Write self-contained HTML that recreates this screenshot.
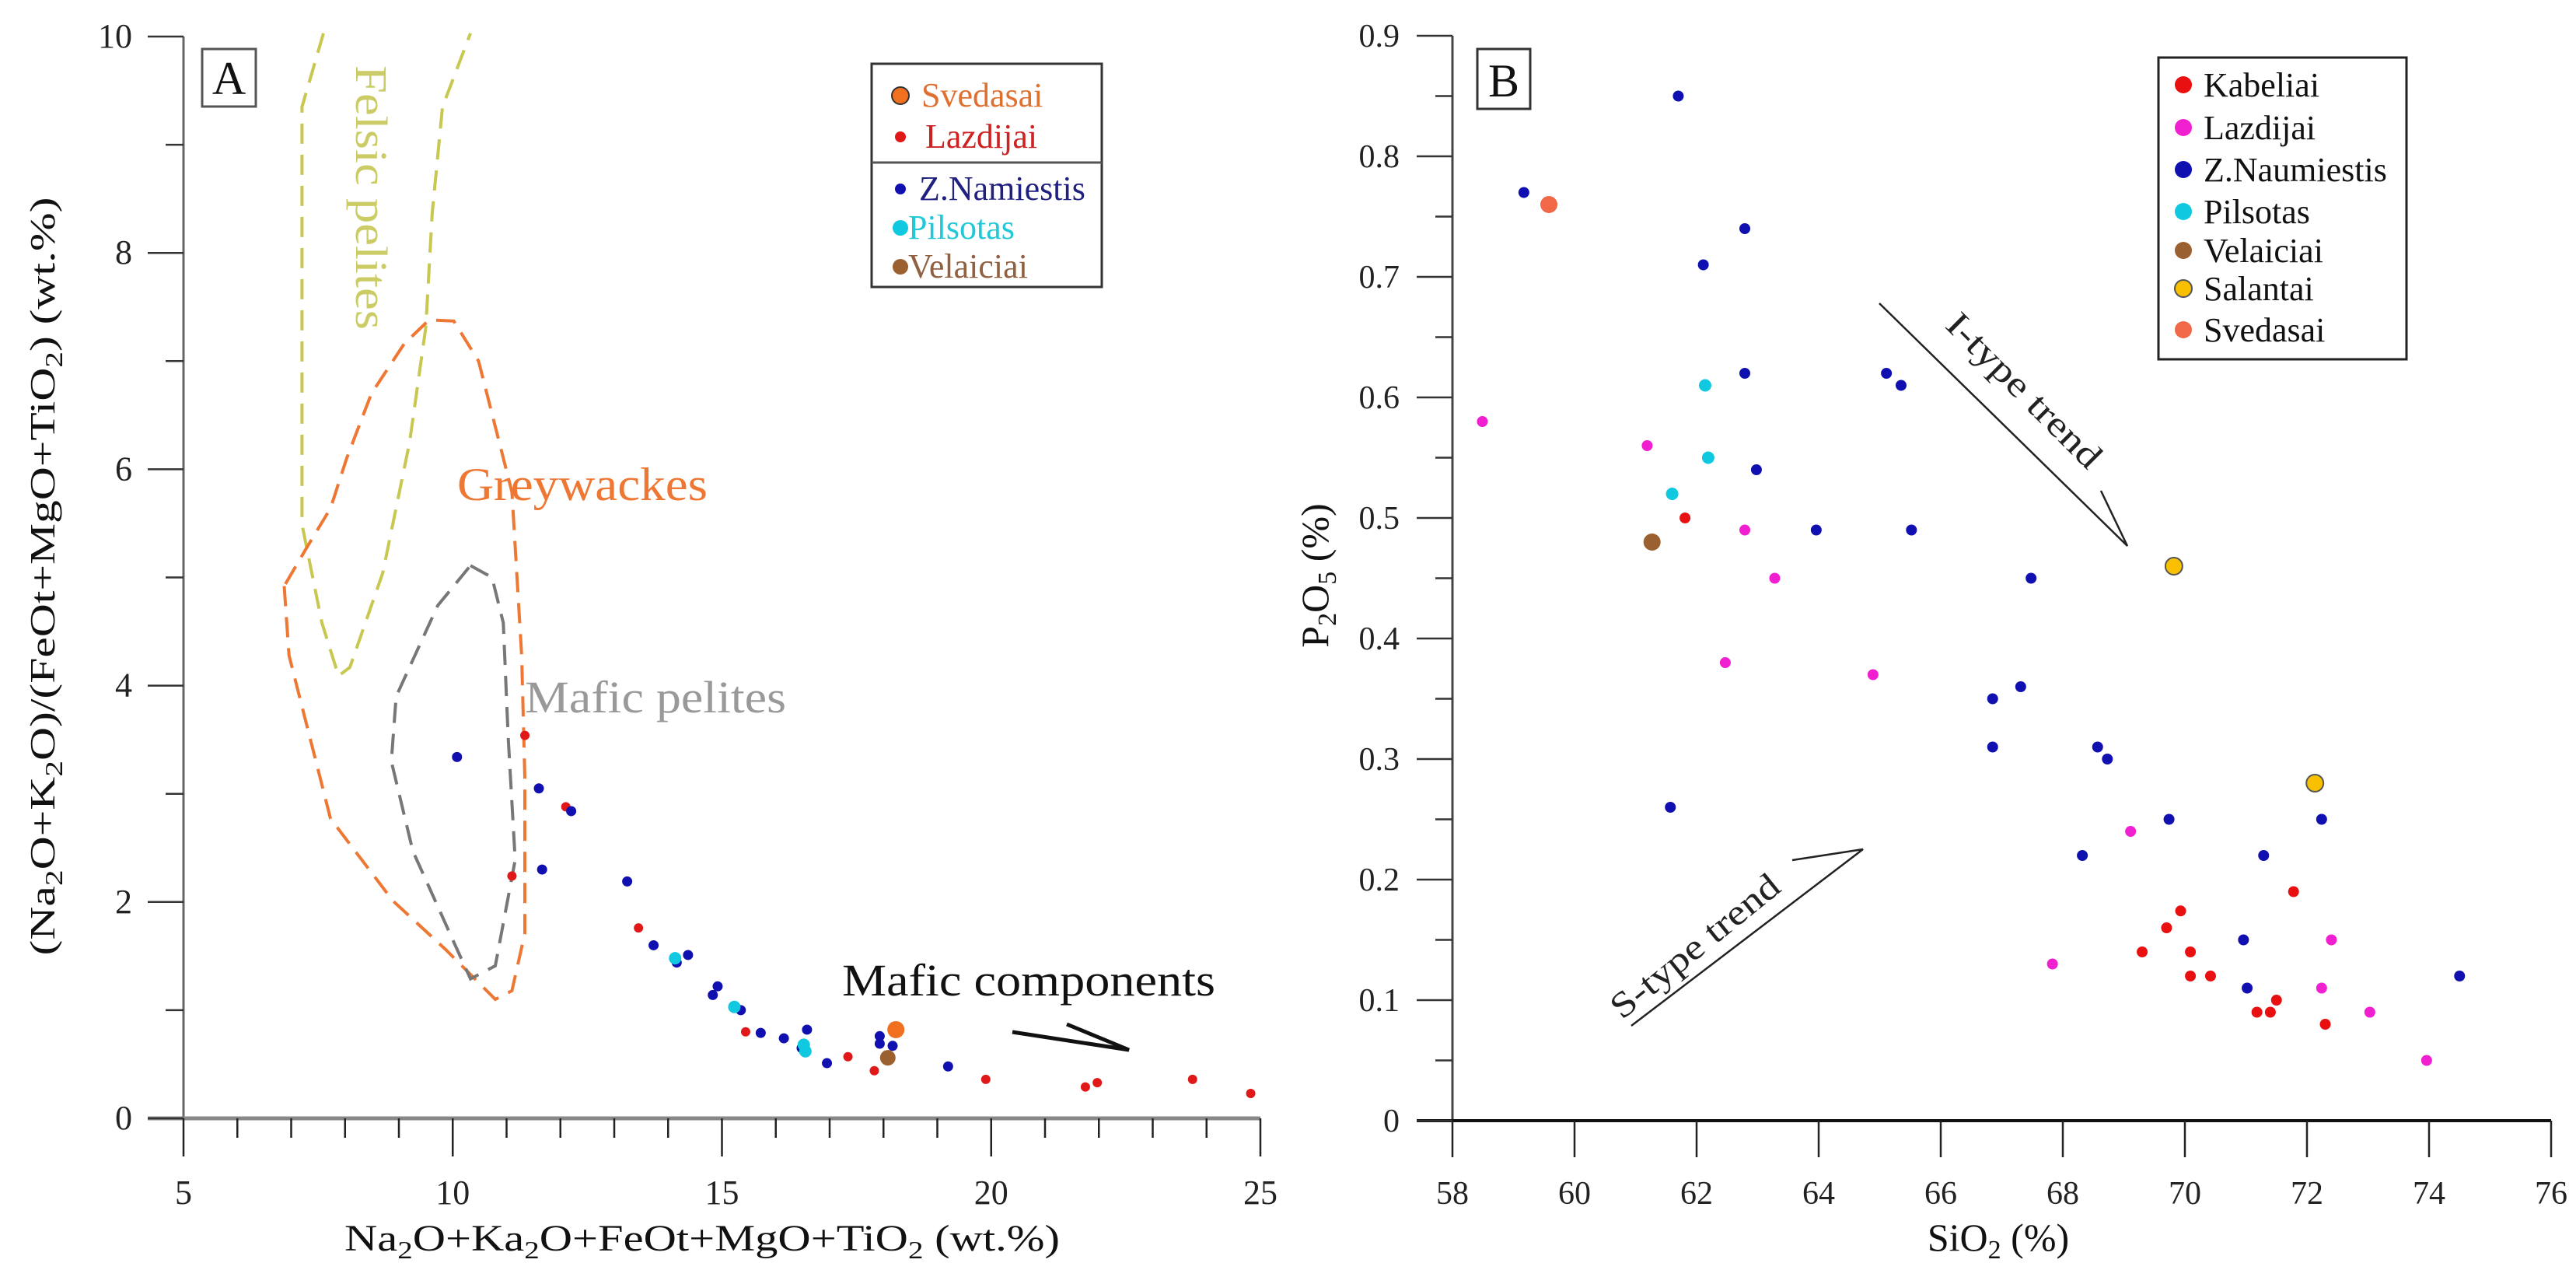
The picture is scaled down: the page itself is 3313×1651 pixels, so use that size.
<!DOCTYPE html>
<html><head><meta charset="utf-8"><style>
html,body{margin:0;padding:0;background:#fff;}
svg{display:block;font-family:"Liberation Serif",serif;}
</style></head><body>
<svg id="chart" width="3313" height="1651" viewBox="0 0 3313 1651" xmlns="http://www.w3.org/2000/svg">
<rect width="3313" height="1651" fill="#fff"/>
<g id="panelA"></g>
<g id="panelB"></g>
</svg>
<script>
// ---------- Panel A data ----------
const aXTicks = [5,10,15,20,25];
const aYTicks = [0,2,4,6,8,10];
const aLazdijaiX = [11.34,11.1,12.1,13.45,15.44,17.34,17.83,19.9,21.75,21.97,23.74,24.82];
const aLazdijaiY = [3.54,2.24,2.88,1.76,0.80,0.57,0.44,0.36,0.29,0.33,0.36,0.23];
const aNamiestisX = [10.08,11.6,12.2,11.66,13.24,13.73,14.37,14.16,14.92,14.83,15.35,15.72,16.15,16.58,16.48,16.95,17.93,17.93,18.17,19.2];
const aNamiestisY = [3.34,3.05,2.84,2.30,2.19,1.60,1.51,1.44,1.22,1.14,1.00,0.79,0.74,0.82,0.65,0.51,0.76,0.69,0.67,0.48];
const aPilsotasX = [14.13,15.23,16.52,16.55];
const aPilsotasY = [1.48,1.03,0.68,0.62];
const aVelaiciaiX = [18.08];
const aVelaiciaiY = [0.56];
const aSvedasaiX = [18.23];
const aSvedasaiY = [0.82];
const felsicX = [7.6,7.2,7.2,7.57,7.88,8.09,8.7,9.2,9.5,9.62,9.81,10.33];
const felsicY = [10.03,9.35,5.49,4.58,4.09,4.17,5.04,6.25,7.31,8.37,9.35,10.03];
const greyX = [6.87,6.96,7.73,8.89,9.87,10.79,11.1,11.34,11.34,11.28,11.1,10.48,10.02,9.56,9.1,8.49,8.03,7.73,7.27];
const greyY = [4.92,4.28,2.77,2.01,1.56,1.10,1.18,1.71,3.15,4.28,5.79,7.0,7.37,7.38,7.16,6.7,6.1,5.64,5.26];
const maficX = [10.33,10.73,10.94,11.03,11.16,10.79,10.33,10.02,9.26,8.86,8.95,9.72];
const maficY = [5.11,5.0,4.58,3.52,2.39,1.41,1.29,1.63,2.47,3.3,3.9,4.74];
// ---------- Panel B data ----------
const bXTicks = [58,60,62,64,66,68,70,72,74,76];
const bYTicks = [0,0.1,0.2,0.3,0.4,0.5,0.6,0.7,0.8,0.9];
const bKabeliaiX = [61.81,69.3,69.7,69.93,70.09,70.09,70.42,71.18,71.4,71.5,71.78,72.3];
const bKabeliaiY = [0.50,0.14,0.16,0.174,0.14,0.12,0.12,0.09,0.09,0.10,0.19,0.08];
const bLazdijaiX = [58.49,61.19,62.79,63.28,62.47,64.89,67.83,69.11,72.24,72.4,73.03,73.96];
const bLazdijaiY = [0.58,0.56,0.49,0.45,0.38,0.37,0.13,0.24,0.11,0.15,0.09,0.05];
const bNaumiestisX = [61.7,59.17,62.79,62.11,62.79,65.11,65.35,62.98,63.96,65.52,67.48,67.31,66.85,66.85,68.57,68.73,61.57,69.74,72.24,68.32,71.29,70.96,71.02,74.5];
const bNaumiestisY = [0.85,0.77,0.74,0.71,0.62,0.62,0.61,0.54,0.49,0.49,0.45,0.36,0.35,0.31,0.31,0.30,0.26,0.25,0.25,0.22,0.22,0.15,0.11,0.12];
const bPilsotasX = [62.14,62.19,61.6];
const bPilsotasY = [0.61,0.55,0.52];
const bVelaiciaiX = [61.27];
const bVelaiciaiY = [0.48];
const bSalantaiX = [69.82,72.13];
const bSalantaiY = [0.46,0.28];
const bSvedasaiX = [59.58];
const bSvedasaiY = [0.76];

const NS = "http://www.w3.org/2000/svg";
function mk(parent, tag, attrs, text){
  const e = document.createElementNS(NS, tag);
  for (const k in attrs) e.setAttribute(k, attrs[k]);
  if (text !== undefined) e.textContent = text;
  parent.appendChild(e);
  return e;
}
// axis functions
const ax = v => 236 + (v - 5) * (1621 - 236) / 20;
const ay = v => 1438 - v * (1438 - 47) / 10;
const bx = v => 1868 + (v - 58) * (3281 - 1868) / 18;
const by = v => 1441 - v * (1441 - 46) / 0.9;

const A = document.getElementById('panelA');
const B = document.getElementById('panelB');

// ----- Panel A axes -----
let l;
l = mk(A,'line',{x1:236,y1:47,x2:236,y2:1438,stroke:'#666','stroke-width':3});
 
l = mk(A,'line',{x1:190,y1:1438,x2:1621,y2:1438,stroke:'#888','stroke-width':5});
 
for (let v = 0; v <= 10; v++) {
  const major = v % 2 === 0;
  const t = mk(A,'line',{x1:major?190:213,y1:ay(v),x2:236,y2:ay(v),stroke:'#333','stroke-width':2.5});
   
}
aYTicks.forEach(v => {
  const t = mk(A,'text',{x:170,y:ay(v)+14,'text-anchor':'end','font-size':44,fill:'#222'}, String(v));
   
});
for (let v = 5; v <= 25; v++) {
  const major = v % 5 === 0;
  const t = mk(A,'line',{x1:ax(v),y1:1438,x2:ax(v),y2:major?1487:1463,stroke:'#222','stroke-width':2.5});
   
}
aXTicks.forEach(v => {
  const t = mk(A,'text',{x:ax(v),y:1548,'text-anchor':'middle','font-size':44,fill:'#222'}, String(v));
   
});
let tt = mk(A,'text',{x:903,y:1608,'text-anchor':'middle','font-size':48,fill:'#111',textLength:920,lengthAdjust:'spacingAndGlyphs'});
 
tt.innerHTML = 'Na<tspan font-size="32" dy="10">2</tspan><tspan dy="-10">O+Ka</tspan><tspan font-size="32" dy="10">2</tspan><tspan dy="-10">O+FeOt+MgO+TiO</tspan><tspan font-size="32" dy="10">2</tspan><tspan dy="-10"> (wt.%)</tspan>';
tt = mk(A,'text',{x:0,y:0,'text-anchor':'middle','font-size':46,fill:'#111',textLength:975,lengthAdjust:'spacingAndGlyphs',transform:'translate(70,741) rotate(-90)'});
 
tt.innerHTML = '(Na<tspan font-size="32" dy="10">2</tspan><tspan dy="-10">O+K</tspan><tspan font-size="32" dy="10">2</tspan><tspan dy="-10">O)/(FeOt+MgO+TiO</tspan><tspan font-size="32" dy="10">2</tspan><tspan dy="-10">) (wt.%)</tspan>';

// Panel A label box
let r = mk(A,'rect',{x:260,y:63,width:69,height:74,fill:'#fff',stroke:'#555','stroke-width':3});
 
r = mk(A,'text',{x:294.5,y:121,'text-anchor':'middle','font-size':60,fill:'#111'},'A');
 

// Fields
function pathFrom(xs, ys, fx, fy, close){
  let d = xs.map((x,i)=> (i?'L':'M') + fx(x).toFixed(1) + ',' + fy(ys[i]).toFixed(1)).join(' ');
  return close ? d + ' Z' : d;
}
let p = mk(A,'path',{d:pathFrom(felsicX,felsicY,ax,ay,false),fill:'none',stroke:'#c8c850','stroke-width':4,'stroke-dasharray':'26,14'});
 
p = mk(A,'path',{d:pathFrom(greyX,greyY,ax,ay,true),fill:'none',stroke:'#ee7733','stroke-width':4,'stroke-dasharray':'26,14'});
 
p = mk(A,'path',{d:pathFrom(maficX,maficY,ax,ay,true),fill:'none',stroke:'#777','stroke-width':4,'stroke-dasharray':'26,14'});
 

let lab = mk(A,'text',{x:0,y:0,'font-size':58,fill:'#cccc66',textLength:340,lengthAdjust:'spacingAndGlyphs',transform:'translate(458,84) rotate(90)'},'Felsic pelites');
 
lab = mk(A,'text',{x:588,y:643,'font-size':60,fill:'#ee7733',textLength:322,lengthAdjust:'spacingAndGlyphs'},'Greywackes');
 
lab = mk(A,'text',{x:675,y:916,'font-size':58,fill:'#999',textLength:336,lengthAdjust:'spacingAndGlyphs'},'Mafic pelites');
 
lab = mk(A,'text',{x:1083,y:1280,'font-size':58,fill:'#111',textLength:480,lengthAdjust:'spacingAndGlyphs'},'Mafic components');
 
p = mk(A,'path',{d:'M1302,1327 L1452,1350 L1372,1317',fill:'none',stroke:'#111','stroke-width':5});
 

// Points A
function dots(g, xs, ys, fx, fy, r, fill, stroke, name){
  xs.forEach((x,i)=>{
    const c = mk(g,'circle',{cx:fx(x),cy:fy(ys[i]),r:r,fill:fill});
    if (stroke) { c.setAttribute('stroke', stroke); c.setAttribute('stroke-width', 2); }
    
    
  });
}
dots(A, aLazdijaiX, aLazdijaiY, ax, ay, 6, '#e01818', null, 'a-lazdijai-point');
dots(A, aNamiestisX, aNamiestisY, ax, ay, 6.5, '#1010b0', null, 'a-namiestis-point');
dots(A, aPilsotasX, aPilsotasY, ax, ay, 8, '#10c8e0', null, 'a-pilsotas-point');
dots(A, aVelaiciaiX, aVelaiciaiY, ax, ay, 10, '#9a6030', null, 'a-velaiciai-point');
dots(A, aSvedasaiX, aSvedasaiY, ax, ay, 11, '#f07020', null, 'a-svedasai-point');

// Legend A
r = mk(A,'rect',{x:1121,y:82,width:296,height:287,fill:'#fff',stroke:'#333','stroke-width':3});
 
l = mk(A,'line',{x1:1121,y1:209,x2:1417,y2:209,stroke:'#555','stroke-width':3});
 
const legA = [
  ['Svedasai',123,'#f07020','#e07030',11,'#333',1185],
  ['Lazdijai',176,'#e01818','#cc2222',7,null,1190],
  ['Z.Namiestis',243,'#1010b0','#202080',7,null,1182],
  ['Pilsotas',293,'#10c8e0','#20c8d8',10,null,1168],
  ['Velaiciai',343,'#9a6030','#906040',10,null,1168]
];
legA.forEach(e=>{
  const c = mk(A,'circle',{cx:1158,cy:e[1],r:e[4],fill:e[2]});
  if (e[5]) { c.setAttribute('stroke',e[5]); c.setAttribute('stroke-width',2); }
  
  
  const t = mk(A,'text',{x:e[6],y:e[1]+14,'font-size':44,fill:e[3]}, e[0]);
  
  
});

// ----- Panel B axes -----
l = mk(B,'line',{x1:1868,y1:46,x2:1868,y2:1441,stroke:'#444','stroke-width':3});
 
l = mk(B,'line',{x1:1822,y1:1441,x2:3281,y2:1441,stroke:'#111','stroke-width':4});
 
for (let k = 0; k <= 18; k++) {
  const v = k * 0.05;
  const major = k % 2 === 0;
  const t = mk(B,'line',{x1:major?1822:1846,y1:by(v),x2:1868,y2:by(v),stroke:'#333','stroke-width':2.5});
   
}
bYTicks.forEach(v => {
  const t = mk(B,'text',{x:1800,y:by(v)+14,'text-anchor':'end','font-size':42,fill:'#222'}, v === 0 ? '0' : v.toFixed(1));
   
});
bXTicks.forEach(v => {
  const t = mk(B,'line',{x1:bx(v),y1:1441,x2:bx(v),y2:1488,stroke:'#222','stroke-width':2.5});
   
  const s = mk(B,'text',{x:bx(v),y:1548,'text-anchor':'middle','font-size':42,fill:'#222'}, String(v));
   
});
tt = mk(B,'text',{x:2570,y:1608,'text-anchor':'middle','font-size':50,fill:'#111'});
 
tt.innerHTML = 'SiO<tspan font-size="34" dy="10">2</tspan><tspan dy="-10"> (%)</tspan>';
tt = mk(B,'text',{x:0,y:0,'text-anchor':'middle','font-size':50,fill:'#111',transform:'translate(1708,740) rotate(-90)'});
 
tt.innerHTML = 'P<tspan font-size="34" dy="10">2</tspan><tspan dy="-10">O</tspan><tspan font-size="34" dy="10">5</tspan><tspan dy="-10"> (%)</tspan>';

r = mk(B,'rect',{x:1900,y:63,width:68,height:77,fill:'#fff',stroke:'#333','stroke-width':3});
 
r = mk(B,'text',{x:1934,y:124,'text-anchor':'middle','font-size':60,fill:'#111'},'B');
 

// Trend arrows
p = mk(B,'path',{d:'M2417,390 L2736,702 L2702,631',fill:'none',stroke:'#222','stroke-width':2.5});
 
lab = mk(B,'text',{x:0,y:0,'font-size':46,fill:'#222',textLength:262,lengthAdjust:'spacingAndGlyphs',transform:'translate(2500,420) rotate(45)'},'I-type trend');
 
p = mk(B,'path',{d:'M2098,1319 L2396,1092 L2305,1106',fill:'none',stroke:'#222','stroke-width':2.5});
 
lab = mk(B,'text',{x:0,y:0,'font-size':46,fill:'#222',textLength:266,lengthAdjust:'spacingAndGlyphs',transform:'translate(2086,1312) rotate(-39)'},'S-type trend');
 

// Points B
dots(B, bKabeliaiX, bKabeliaiY, bx, by, 7, '#e81010', null, 'b-kabeliai-point');
dots(B, bLazdijaiX, bLazdijaiY, bx, by, 7, '#f020d0', null, 'b-lazdijai-point');
dots(B, bNaumiestisX, bNaumiestisY, bx, by, 7, '#1010b0', null, 'b-naumiestis-point');
dots(B, bPilsotasX, bPilsotasY, bx, by, 8, '#10c8e0', null, 'b-pilsotas-point');
dots(B, bVelaiciaiX, bVelaiciaiY, bx, by, 11, '#9a6030', null, 'b-velaiciai-point');
dots(B, bSalantaiX, bSalantaiY, bx, by, 11, '#f8c000', '#555', 'b-salantai-point');
dots(B, bSvedasaiX, bSvedasaiY, bx, by, 11, '#f06848', null, 'b-svedasai-point');

// Legend B
r = mk(B,'rect',{x:2776,y:74,width:319,height:388,fill:'#fff',stroke:'#222','stroke-width':3});
 
const legB = [
  ['Kabeliai',109,'#e81010',null],
  ['Lazdijai',164,'#f020d0',null],
  ['Z.Naumiestis',218,'#1010b0',null],
  ['Pilsotas',272,'#10c8e0',null],
  ['Velaiciai',322,'#9a6030',null],
  ['Salantai',371,'#f8c000','#555'],
  ['Svedasai',424,'#f06848',null]
];
legB.forEach(e=>{
  const c = mk(B,'circle',{cx:2808,cy:e[1],r:11,fill:e[2]});
  if (e[3]) { c.setAttribute('stroke',e[3]); c.setAttribute('stroke-width',2); }
  
  
  const t = mk(B,'text',{x:2834,y:e[1]+15,'font-size':44,fill:'#111'}, e[0]);
  
  
});
</script>
</body></html>
